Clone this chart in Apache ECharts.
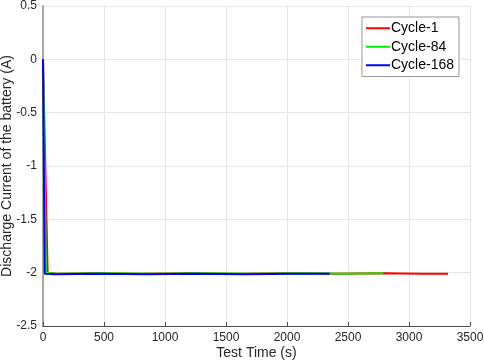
<!DOCTYPE html>
<html>
<head>
<meta charset="utf-8">
<script src="https://cdn.jsdelivr.net/npm/echarts@6/dist/echarts.min.js"></script>
<style>
  html, body { margin: 0; padding: 0; background: #fff; }
  #chart { width: 484px; height: 364px; }
</style>
</head>
<body>
<div id="chart"></div>
<script>
// [time (s), current (A)]
const cycle1 = [[0, 0], [15, 0], [38, -2.0], [120, -2.01], [400, -2.005], [800, -2.01], [1200, -2.005], [1600, -2.01], [2000, -2.005], [2400, -2.01], [2800, -2.005], [3100, -2.01], [3320, -2.01]]
const cycle84 = [[0, 0], [12, 0], [25, -2.0], [100, -2.01], [500, -2.005], [900, -2.01], [1300, -2.005], [1700, -2.01], [2100, -2.005], [2500, -2.01], [2790, -2.005]]
const cycle168 = [[0, 0], [8, 0], [14, -2.01], [100, -2.015], [450, -2.01], [850, -2.015], [1250, -2.01], [1650, -2.015], [2050, -2.01], [2350, -2.01]]

const chart = echarts.init(document.getElementById("chart"))

const textColor = "#262626"
const font = "Arial, 'Liberation Sans', sans-serif"

chart.setOption({
  animation: false,
  grid: { left: 43, right: 14, top: 6, bottom: 38, containLabel: false, outerBoundsMode: "none" },
  legend: {
    right: 25,
    top: 17,
    orient: "vertical",
    itemWidth: 24,
    itemHeight: 2,
    itemGap: 2,
    padding: [3, 5, 3, 4],
    backgroundColor: "#fff",
    borderColor: "#999",
    borderWidth: 1,
    borderRadius: 0,
    icon: "rect",
    textStyle: { color: "#000", fontSize: 14, lineHeight: 16.5, fontFamily: font, padding: [0, 0, 0, -4] },
    data: ["Cycle-1", "Cycle-84", "Cycle-168"],
  },
  xAxis: {
    type: "value",
    min: 0,
    max: 3500,
    interval: 500,
    name: "Test Time (s)",
    nameLocation: "middle",
    nameGap: 20,
    nameMoveOverlap: false,
    nameTextStyle: { color: textColor, fontSize: 14, fontFamily: font },
    axisLine: { show: true, onZero: false, lineStyle: { color: "#4d4d4d", width: 1 } },
    axisTick: { show: true, inside: true, length: 4, lineStyle: { color: "#4d4d4d" } },
    axisLabel: { color: textColor, fontSize: 12, fontFamily: font, margin: 6, formatter: (v) => String(v) },
    splitLine: { show: true, lineStyle: { color: "#e6e6e6", width: 1 } },
  },
  yAxis: {
    type: "value",
    min: -2.5,
    max: 0.5,
    interval: 0.5,
    name: "Discharge Current of the battery (A)",
    nameLocation: "middle",
    nameGap: 29,
    nameMoveOverlap: false,
    nameTextStyle: { color: textColor, fontSize: 14, fontFamily: font },
    axisLine: { show: true, lineStyle: { color: "#a6a6a6", width: 2 } },
    axisTick: { show: false },
    axisLabel: { color: textColor, fontSize: 12, fontFamily: font, margin: 6 },
    splitLine: { show: true, lineStyle: { color: "#e6e6e6", width: 1 } },
  },
  series: [
    {
      name: "Cycle-1",
      type: "line",
      data: cycle1,
      showSymbol: false,
      color: "#ff0000",
      lineStyle: { width: 2 },
    },
    {
      name: "Cycle-84",
      type: "line",
      data: cycle84,
      showSymbol: false,
      color: "#00ee00",
      lineStyle: { width: 2 },
    },
    {
      name: "Cycle-168",
      type: "line",
      data: cycle168,
      showSymbol: false,
      color: "#0000ff",
      lineStyle: { width: 2 },
    },
  ],
})
</script>
</body>
</html>
